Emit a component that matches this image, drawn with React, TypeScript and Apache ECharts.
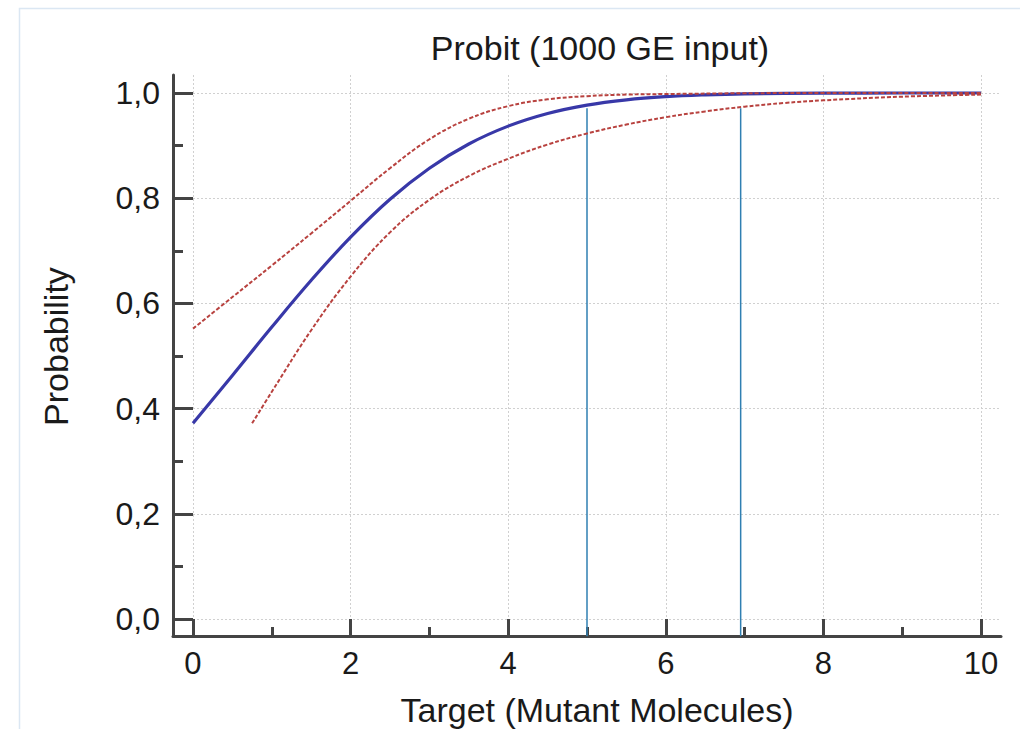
import React, { useEffect, useRef } from "react";
import * as echarts from "echarts";

// ---- data ----
const chartTitle = "Probit (1000 GE input)";
const xName = "Target (Mutant Molecules)";
const yName = "Probability";

const xTicks = [0, 2, 4, 6, 8, 10];
const xMinorTicks = [1, 3, 5, 7, 9];
const yTicks = [0, 0.2, 0.4, 0.6, 0.8, 1.0];
const yMinorTicks = [0.1, 0.3, 0.5, 0.7, 0.9];

// fitted probit curve
const fitX = [0, 0.5, 1, 1.5, 2, 2.5, 3, 3.5, 4, 4.5, 5, 5.5, 6, 6.5, 7, 8, 9, 10];
const fitP = [0.372, 0.463, 0.555, 0.644, 0.726, 0.798, 0.857, 0.903, 0.937, 0.961, 0.977, 0.987, 0.993, 0.9964, 0.9983, 0.9996, 1.0, 1.0];

// upper confidence bound
const upX = [0, 0.5, 1, 1.5, 2, 2.5, 3, 3.5, 4, 4.5, 5, 5.5, 6, 7, 8, 9, 10];
const upP = [0.552, 0.612, 0.672, 0.733, 0.795, 0.857, 0.912, 0.951, 0.975, 0.988, 0.994, 0.997, 0.998, 0.9995, 1.0, 1.0, 1.0];

// lower confidence bound
const loX = [0.75, 1, 1.5, 2, 2.5, 3, 3.5, 4, 4.5, 5, 5.5, 6, 6.5, 7, 7.5, 8, 9, 10];
const loP = [0.372, 0.432, 0.549, 0.651, 0.735, 0.797, 0.842, 0.875, 0.902, 0.923, 0.94, 0.954, 0.965, 0.974, 0.981, 0.986, 0.993, 0.997];

// vertical marker lines (x positions, bottom & top probability)
const markerX = [5, 6.95];
const markerBottom = -0.033;
const markerTop = 0.971;

const X_MIN = -0.2538;
const X_MAX = 10.2538;
const Y_MIN = -0.0323;
const Y_MAX = 1.0342;

const FONT = "'Liberation Sans', Arial, sans-serif";
const AXIS_COLOR = "#444444";
const TEXT_COLOR = "#1a1a1a";

const zip = (xs: number[], ys: number[]) => xs.map((x, i) => [x, ys[i]]);

export default function App() {
  const ref = useRef<HTMLDivElement>(null);

  useEffect(() => {
    if (!ref.current) return;
    const chart = echarts.init(ref.current, null, { renderer: "svg" });

    const markerSeries = markerX.map((x, i) => ({
      name: "marker" + i,
      type: "line",
      xAxisIndex: 0,
      yAxisIndex: 0,
      data: [
        [x, markerBottom],
        [x, markerTop],
      ],
      symbol: "none",
      silent: true,
      lineStyle: { color: "#2f7fb2", width: 1.5 },
      z: 2,
    }));

    const option: any = {
      animation: false,
      backgroundColor: "#ffffff",
      title: {
        text: chartTitle,
        left: 595,
        top: 26,
        textAlign: "center",
        textStyle: {
          fontFamily: FONT,
          fontSize: 34,
          fontWeight: "normal",
          color: TEXT_COLOR,
        },
      },
      graphic: [
        {
          type: "rect",
          shape: { x: 19.5, y: 8.5, width: 1020, height: 740 },
          style: { fill: "none", stroke: "#dbe7f3", lineWidth: 1.5 },
          silent: true,
          z: -10,
        },
      ],
      grid: {
        left: 173,
        top: 75,
        width: 828,
        height: 561,
        containLabel: false,
        outerBoundsMode: "none",
      },
      xAxis: [
        {
          type: "value",
          min: X_MIN,
          max: X_MAX,
          position: "bottom",
          name: xName,
          nameLocation: "middle",
          nameGap: 57,
          nameTextStyle: {
            fontFamily: FONT,
            fontSize: 34,
            color: TEXT_COLOR,
            padding: [0, 0, 0, 20],
          },
          axisLine: { show: true, onZero: false, lineStyle: { color: AXIS_COLOR, width: 3 } },
          axisTick: {
            show: true,
            inside: true,
            length: 17,
            customValues: xTicks,
            lineStyle: { color: AXIS_COLOR, width: 3 },
          },
          axisLabel: {
            show: true,
            customValues: xTicks,
            margin: 12,
            fontFamily: FONT,
            fontSize: 31,
            color: TEXT_COLOR,
            formatter: (v: number) => String(Math.round(v)),
          },
          splitLine: {
            show: true,
            lineStyle: { color: "#d0d0d0", width: 1, type: [2, 2] },
          },
        },
        {
          type: "value",
          min: X_MIN,
          max: X_MAX,
          position: "bottom",
          axisLine: { show: false, onZero: false },
          axisTick: {
            show: true,
            inside: true,
            length: 9,
            customValues: xMinorTicks,
            lineStyle: { color: AXIS_COLOR, width: 3 },
          },
          axisLabel: { show: false },
          splitLine: { show: false },
        },
      ],
      yAxis: [
        {
          type: "value",
          min: Y_MIN,
          max: Y_MAX,
          position: "left",
          name: yName,
          nameLocation: "middle",
          nameGap: 100,
          nameTextStyle: {
            fontFamily: FONT,
            fontSize: 34,
            color: TEXT_COLOR,
            padding: [0, 0, 0, 18],
          },
          axisLine: { show: true, onZero: false, lineStyle: { color: AXIS_COLOR, width: 3 } },
          axisTick: {
            show: true,
            inside: true,
            length: 20,
            customValues: yTicks,
            lineStyle: { color: AXIS_COLOR, width: 3 },
          },
          axisLabel: {
            show: true,
            customValues: yTicks,
            margin: 13,
            fontFamily: FONT,
            fontSize: 32,
            color: TEXT_COLOR,
            formatter: (v: number) => v.toFixed(1).replace(".", ","),
          },
          splitLine: {
            show: true,
            lineStyle: { color: "#d0d0d0", width: 1, type: [2, 2] },
          },
        },
        {
          type: "value",
          min: Y_MIN,
          max: Y_MAX,
          position: "left",
          axisLine: { show: false, onZero: false },
          axisTick: {
            show: true,
            inside: true,
            length: 10,
            customValues: yMinorTicks,
            lineStyle: { color: AXIS_COLOR, width: 3 },
          },
          axisLabel: { show: false },
          splitLine: { show: false },
        },
      ],
      series: [
        ...markerSeries,
        {
          name: "fit",
          type: "line",
          data: zip(fitX, fitP),
          smooth: 0.4,
          symbol: "none",
          lineStyle: { color: "#3838a8", width: 3.2 },
          z: 3,
        },
        {
          name: "upper",
          type: "line",
          data: zip(upX, upP),
          smooth: 0.4,
          symbol: "none",
          lineStyle: { color: "#b8423f", width: 2, type: [4, 2] },
          z: 4,
        },
        {
          name: "lower",
          type: "line",
          data: zip(loX, loP),
          smooth: 0.4,
          symbol: "none",
          lineStyle: { color: "#b8423f", width: 2, type: [4, 2] },
          z: 4,
        },
      ],
    };

    chart.setOption(option);
    return () => chart.dispose();
  }, []);

  return (
    <div
      ref={ref}
      style={{ position: "fixed", left: 0, top: 0, width: 1020, height: 729 }}
    />
  );
}
